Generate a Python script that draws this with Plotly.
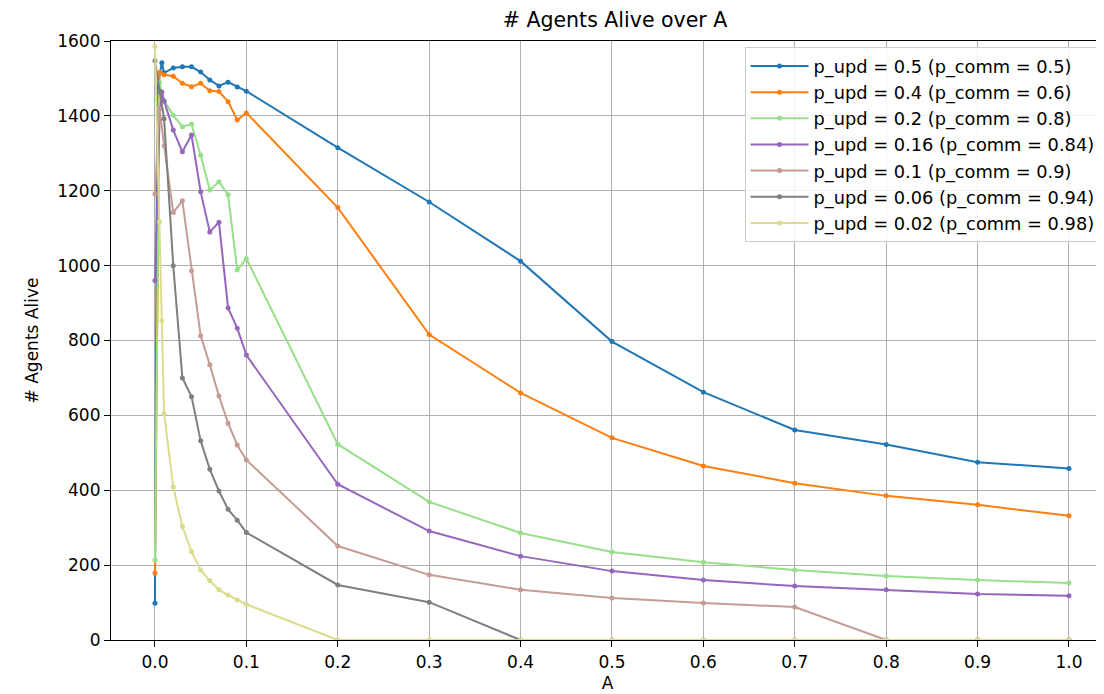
import plotly.graph_objects as go

# ---- data ----
labels = [
    "p_upd = 0.5 (p_comm = 0.5)",
    "p_upd = 0.4 (p_comm = 0.6)",
    "p_upd = 0.2 (p_comm = 0.8)",
    "p_upd = 0.16 (p_comm = 0.84)",
    "p_upd = 0.1 (p_comm = 0.9)",
    "p_upd = 0.06 (p_comm = 0.94)",
    "p_upd = 0.02 (p_comm = 0.98)",
]

tail_x = [0.1, 0.2, 0.3, 0.4, 0.5, 0.6, 0.7, 0.8, 0.9, 1.0]
mid_x = [0.02, 0.03, 0.04, 0.05, 0.06, 0.07, 0.08, 0.09]

x_blue = [0, 0.0025, 0.0075, 0.01] + mid_x + tail_x
y_blue = [98, 1472, 1542, 1515, 1528, 1531, 1531, 1517, 1496, 1480, 1490, 1477,
          1466, 1315, 1170, 1012, 797, 662, 561, 522, 475, 458]

x_orange = [0, 0.005, 0.01] + mid_x + tail_x
y_orange = [179, 1516, 1510, 1506, 1487, 1478, 1487, 1467, 1465, 1438, 1389,
            1408, 1155, 816, 660, 540, 465, 419, 385, 361, 332]

x_green = [0, 0.005, 0.01] + mid_x + tail_x
y_green = [214, 1490, 1440, 1402, 1371, 1378, 1295, 1202, 1224, 1189, 988,
           1019, 523, 369, 286, 235, 208, 187, 171, 160, 152]

x_purple = [0, 0.005, 0.0075, 0.01] + mid_x + tail_x
y_purple = [960, 1390, 1464, 1440, 1362, 1304, 1349, 1197, 1090, 1116, 887, 833,
            761, 416, 291, 224, 184, 160, 144, 134, 123, 118]

x_brown = [0, 0.005, 0.01] + mid_x + tail_x
y_brown = [1191, 1420, 1320, 1142, 1173, 986, 813, 735, 652, 579, 521,
           481, 251, 174, 134, 112, 99, 88, 0, 0, 0]

x_gray = [0, 0.005, 0.01] + mid_x + tail_x
y_gray = [1547, 1465, 1392, 1000, 700, 650, 532, 456, 398, 349, 320,
          287, 147, 101, 0, 0, 0, 0, 0, 0, 0]

x_yellow = [0, 0.005, 0.0075, 0.01] + mid_x + tail_x
y_yellow = [1585, 1117, 853, 605, 409, 303, 236, 187, 158, 134, 120, 107,
            95, 0, 0, 0, 0, 0, 0, 0, 0, 0]

xs = [x_blue, x_orange, x_green, x_purple, x_brown, x_gray, x_yellow]
ys = [y_blue, y_orange, y_green, y_purple, y_brown, y_gray, y_yellow]
colors = ["#1f77b4", "#ff7f0e", "#98df8a", "#9467bd", "#c49c94", "#7f7f7f", "#dbdb8d"]

x_ticks = [0.0, 0.1, 0.2, 0.3, 0.4, 0.5, 0.6, 0.7, 0.8, 0.9, 1.0]
y_ticks = [0, 200, 400, 600, 800, 1000, 1200, 1400, 1600]

# ---- figure ----
fig = go.Figure()
for x, y, c, name in zip(xs, ys, colors, labels):
    fig.add_trace(go.Scatter(
        x=x, y=y, mode="lines+markers", name=name,
        line=dict(color=c, width=2),
        marker=dict(color=c, size=5),
    ))

# the page body has an 8px margin, so the figure is 8px smaller and offset
W, H = 1096, 686
font_family = "DejaVu Sans"
fig.update_layout(
    width=W, height=H,
    margin=dict(l=103, r=0, t=33, b=54),
    paper_bgcolor="white", plot_bgcolor="white",
    font=dict(family=font_family, size=17, color="black"),
    title=dict(text="# Agents Alive over A", x=0.5076, xref="paper",
               xanchor="center", y=1 - 12 / H, yref="container",
               yanchor="middle", font=dict(size=20.5, color="black")),
    showlegend=True,
    legend=dict(x=0.638, y=0.99, xanchor="left", yanchor="top",
                bgcolor="rgba(255,255,255,0.85)", bordercolor="#cccccc",
                borderwidth=1, font=dict(size=17.8), tracegroupgap=0,
                itemwidth=58),
)
fig.update_xaxes(
    range=[-0.0481, 1.0383], tickvals=x_ticks,
    ticktext=[f"{v:.1f}" for v in x_ticks],
    showgrid=True, gridcolor="#b0b0b0", gridwidth=1, zeroline=False,
    showline=True, linecolor="black", linewidth=1.2, mirror=True,
    ticks="outside", ticklen=6, tickcolor="black",
    title=dict(text="A", standoff=6, font=dict(size=17)),
)
fig.update_yaxes(
    range=[0, 1600], tickvals=y_ticks,
    showgrid=True, gridcolor="#b0b0b0", gridwidth=1, zeroline=False,
    showline=True, linecolor="black", linewidth=1.2,
    ticks="outside", ticklen=6, tickcolor="black",
    title=dict(text="# Agents Alive", standoff=14, font=dict(size=17)),
)

fig.write_html("out.html")
